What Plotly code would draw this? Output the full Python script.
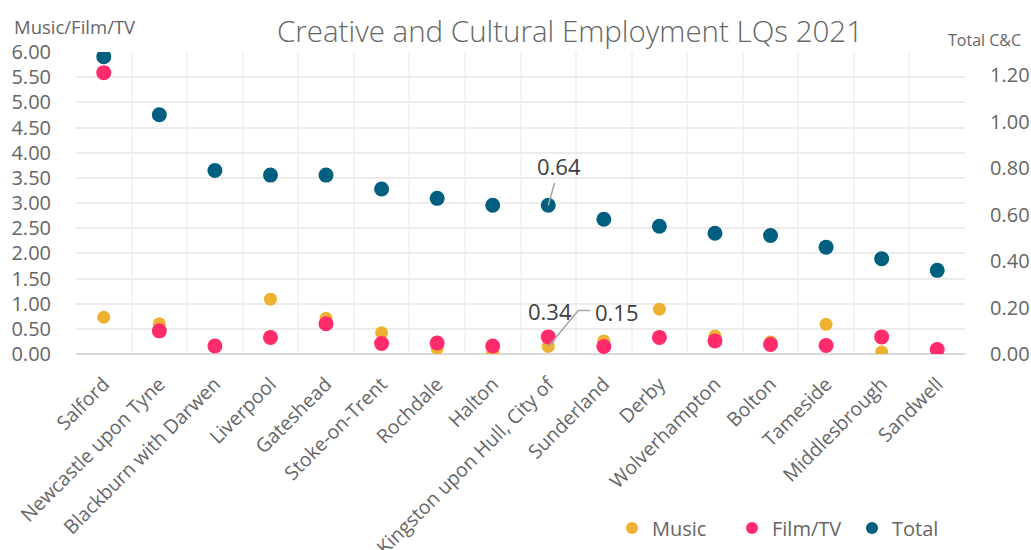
import plotly.graph_objects as go

# Local authorities, ordered by total creative & cultural LQ
areas = [
    "Salford", "Newcastle upon Tyne", "Blackburn with Darwen", "Liverpool",
    "Gateshead", "Stoke-on-Trent", "Rochdale", "Halton",
    "Kingston upon Hull, City of", "Sunderland", "Derby", "Wolverhampton",
    "Bolton", "Tameside", "Middlesbrough", "Sandwell",
]

# Location quotients (left axis)
music_lq = [0.73, 0.60, 0.15, 1.09, 0.71, 0.42, 0.11, 0.03,
            0.15, 0.26, 0.89, 0.36, 0.24, 0.59, 0.04, 0.08]
film_tv_lq = [5.59, 0.46, 0.16, 0.33, 0.60, 0.21, 0.22, 0.16,
              0.34, 0.15, 0.33, 0.26, 0.19, 0.17, 0.34, 0.09]

# Total creative & cultural LQ (right axis)
total_lq = [1.28, 1.03, 0.79, 0.77, 0.77, 0.71, 0.67, 0.64,
            0.64, 0.58, 0.55, 0.52, 0.51, 0.46, 0.41, 0.36]

left_ticks = [i * 0.5 for i in range(13)]
right_ticks = [i * 0.2 for i in range(7)]

FONT = "Open Sans"
GREY = "#5F5F5F"
LIGHT = "#666666"
C_MUSIC = "#EEB132"
C_FILM = "#FF2B6B"
C_TOTAL = "#005F7F"

fig = go.Figure()
fig.add_trace(go.Scatter(
    x=areas, y=music_lq, name="Music", mode="markers",
    marker=dict(color=C_MUSIC, size=13, line=dict(width=0)),
))
fig.add_trace(go.Scatter(
    x=areas, y=film_tv_lq, name="Film/TV", mode="markers",
    marker=dict(color=C_FILM, size=15, line=dict(width=0)),
))
fig.add_trace(go.Scatter(
    x=areas, y=total_lq, name="Total", mode="markers", yaxis="y2",
    marker=dict(color=C_TOTAL, size=15, line=dict(width=0)),
))

hull = areas[8]
label_font = dict(family=FONT, size=22, color="#404040")
fig.add_annotation(
    x=hull, y=total_lq[8], yref="y2", text=f"{total_lq[8]:.2f}",
    showarrow=True, arrowhead=0, arrowwidth=1.5, arrowcolor="#A6A6A6",
    ax=11, ay=-39, standoff=0, font=label_font,
)
fig.add_annotation(
    x=hull, y=film_tv_lq[8], yref="y", text=f"{film_tv_lq[8]:.2f}",
    showarrow=False, yshift=26, xshift=2, font=label_font,
)
fig.add_annotation(
    x=hull, y=music_lq[8], yref="y", text=f"{music_lq[8]:.2f}",
    showarrow=False, xshift=69, yshift=34, font=label_font,
)
# elbow leader line from the Music point to its label
fig.add_shape(
    type="path", xref="x", yref="y", xsizemode="pixel", ysizemode="pixel",
    xanchor=hull, yanchor=music_lq[8],
    path="M 0 0 L 30 36 L 42 36",
    line=dict(color="#A6A6A6", width=1.5),
)

# axis captions
fig.add_annotation(
    xref="paper", yref="paper", x=-64 / 889, y=1 + 26 / 302,
    xanchor="left", yanchor="middle", text="Music/Film/TV",
    showarrow=False, font=dict(family=FONT, size=18.5, color=LIGHT),
)
fig.add_annotation(
    xref="paper", yref="paper", x=1 + 58 / 889, y=1 + 12 / 302,
    xanchor="right", yanchor="middle", text="Total C&C",
    showarrow=False, font=dict(family=FONT, size=16, color=LIGHT),
)

fig.update_layout(
    width=1031, height=550,
    margin=dict(l=76, r=66, t=52, b=196, autoexpand=False),
    paper_bgcolor="white", plot_bgcolor="white",
    font=dict(family=FONT, color=GREY),
    title=dict(
        text="Creative and Cultural Employment LQs 2021",
        xref="container", x=570 / 1031, xanchor="center",
        yref="container", y=1 - 32 / 550, yanchor="middle",
        font=dict(family=FONT, size=29.5, color=LIGHT, weight=300),
    ),
    xaxis=dict(
        type="category", range=[-0.5, len(areas) - 0.5],
        tickson="boundaries", showgrid=True,
        gridcolor="#F4F4F4", gridwidth=1.5, ticks="", tickangle=-45,
        tickfont=dict(family=FONT, size=19.5, color=LIGHT),
        ticklabelstandoff=14,
        showline=False, zeroline=False, automargin=False,
    ),
    yaxis=dict(
        range=[0, 6], tickvals=left_ticks, tickformat=".2f",
        showgrid=True, gridcolor="#ECECEC", gridwidth=2,
        zeroline=True, zerolinecolor="#D9D9D9", zerolinewidth=2,
        tickfont=dict(family=FONT, size=20, color=LIGHT),
        ticklabelstandoff=24, automargin=False,
    ),
    yaxis2=dict(
        range=[0, 1.3], tickvals=right_ticks, tickformat=".2f",
        overlaying="y", side="right", showgrid=False, zeroline=False,
        tickfont=dict(family=FONT, size=20, color=LIGHT),
        ticklabelstandoff=24, automargin=False,
    ),
    showlegend=True,
    legend=dict(
        orientation="h", xref="container", yref="container",
        x=612 / 1031, y=22 / 550, xanchor="left", yanchor="middle",
        font=dict(family=FONT, size=20, color=LIGHT),
        itemsizing="constant", entrywidth=75,
    ),
)

fig.write_html("out.html")
